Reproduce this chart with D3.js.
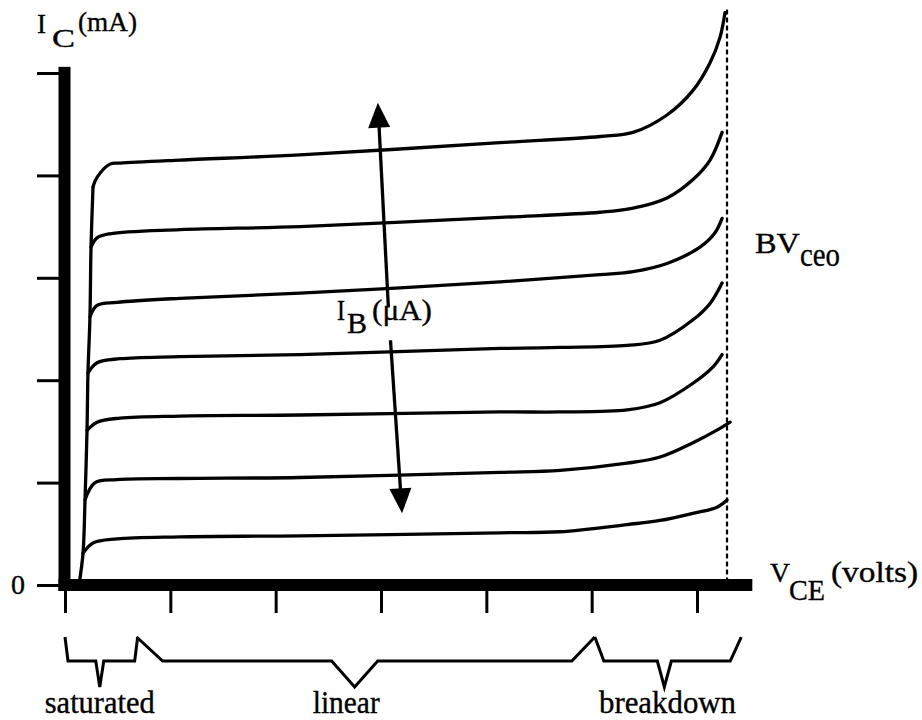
<!DOCTYPE html>
<html>
<head>
<meta charset="utf-8">
<script src="https://cdn.jsdelivr.net/npm/d3@7"></script>
<style>
  body { margin: 0; background: #fff; }
  svg { display: block; }
  text { font-family: "Liberation Serif", "DejaVu Serif", serif; fill: #000; stroke: #000; stroke-width: 0.35; }
</style>
</head>
<body>
<svg id="chart" width="922" height="720"></svg>
<script>
// V_CE tick positions (volts, unlabeled) and I_C ticks (mA)
const xTicks = [0, 1, 2, 3, 4, 5, 6];
const yTicks = [0, 1, 2, 3, 4, 5];
const bvceo = 6.285;

// common saturation edge, [V_CE, I_C]
const saturation = [[0.133, 0], [0.171, 0.31], [0.190, 0.83], [0.209, 1.51], [0.218, 2.07],
  [0.237, 2.62], [0.247, 3.30], [0.266, 3.89]];

// one curve per base current, bottom to top
const ib1 = [[0.171, 0.31], [0.266, 0.41], [0.494, 0.45], [1.092, 0.47], [2.231, 0.48], [4.130, 0.51],
  [4.700, 0.52], [5.336, 0.59], [5.649, 0.63], [5.962, 0.70], [6.190, 0.76], [6.285, 0.83]];
const ib2 = [[0.190, 0.83], [0.285, 1.00], [0.494, 1.03], [1.092, 1.04], [2.231, 1.05], [4.130, 1.10],
  [4.700, 1.12], [5.336, 1.19], [5.649, 1.25], [5.962, 1.39], [6.219, 1.53], [6.314, 1.59]];
const ib3 = [[0.209, 1.51], [0.304, 1.59], [0.522, 1.63], [1.092, 1.65], [2.231, 1.66], [4.130, 1.69],
  [4.700, 1.69], [5.336, 1.71], [5.649, 1.78], [5.962, 1.97], [6.152, 2.13], [6.238, 2.25]];
const ib4 = [[0.218, 2.07], [0.304, 2.17], [0.522, 2.21], [1.092, 2.23], [2.231, 2.25], [4.130, 2.31],
  [4.700, 2.32], [5.336, 2.34], [5.649, 2.39], [5.962, 2.59], [6.124, 2.75], [6.238, 2.95]];
const ib5 = [[0.237, 2.62], [0.304, 2.73], [0.494, 2.76], [1.092, 2.80], [2.231, 2.85], [4.130, 2.96],
  [5.079, 3.03], [5.393, 3.06], [5.715, 3.14], [6.029, 3.30], [6.171, 3.44], [6.238, 3.58]];
const ib6 = [[0.247, 3.30], [0.304, 3.39], [0.427, 3.43], [1.092, 3.47], [2.231, 3.50], [4.130, 3.59],
  [5.079, 3.64], [5.393, 3.68], [5.715, 3.78], [5.962, 3.96], [6.124, 4.15], [6.238, 4.42]];
const ib7 = [[0.266, 3.89], [0.304, 3.98], [0.427, 4.11], [0.522, 4.12], [1.092, 4.15], [2.231, 4.20],
  [4.130, 4.32], [5.079, 4.38], [5.393, 4.42], [5.715, 4.59], [5.962, 4.83], [6.124, 5.10],
  [6.219, 5.35], [6.266, 5.59]];
const curves = [ib1, ib2, ib3, ib4, ib5, ib6, ib7];

// I_B direction arrows
const arrowFrom = [[3.07, 2.71], [3.09, 2.39]];
const arrowTo = [[2.97, 4.71], [3.20, 0.70]];

// operating regions under the axis
const regions = ['saturated', 'linear', 'breakdown'];
const regionStart = [0, 0.68, 5.03];
const regionEnd = [0.69, 5.03, 6.42];
const regionTip = [0.33, 2.75, 5.69];
const regionLabel = [0.33, 2.67, 5.72];

const svg = d3.select('#chart');
const x = d3.scaleLinear().domain([0, 6]).range([65, 697]);
const y = d3.scaleLinear().domain([0, 5]).range([585, 73]);

const line = d3.line()
  .x(d => x(d[0]))
  .y(d => y(d[1]))
  .curve(d3.curveCatmullRom.alpha(0.5));

// characteristic curves
svg.append('path')
  .attr('d', line(saturation))
  .attr('fill', 'none').attr('stroke', '#000').attr('stroke-width', 3.3);

svg.selectAll('.ib')
  .data(curves)
  .enter().append('path')
  .attr('class', 'ib')
  .attr('d', line)
  .attr('fill', 'none')
  .attr('stroke', '#000')
  .attr('stroke-width', 3.3)
  .attr('stroke-linecap', 'round');

// breakdown voltage marker
svg.append('line')
  .attr('x1', x(bvceo)).attr('x2', x(bvceo))
  .attr('y1', y(5.62)).attr('y2', y(0))
  .attr('stroke', '#000').attr('stroke-width', 2.2)
  .attr('stroke-dasharray', '5,3');

// thick axes
const barW = 12;
svg.append('rect')
  .attr('x', x(0) - barW / 2 - 0.5).attr('y', y(5.06))
  .attr('width', barW).attr('height', y(0) - y(5.06) + barW / 2)
  .attr('fill', '#000');
svg.append('rect')
  .attr('x', x(0) - barW / 2 - 0.5).attr('y', y(0) - barW / 2)
  .attr('width', x(6.53) - x(0) + barW / 2).attr('height', barW)
  .attr('fill', '#000');

const xAxis = svg.append('g')
  .attr('transform', `translate(0,${y(0) + barW / 2})`)
  .call(d3.axisBottom(x).tickValues(xTicks).tickSize(22).tickFormat(''));
const yAxis = svg.append('g')
  .attr('transform', `translate(${x(0) - barW / 2},0)`)
  .call(d3.axisLeft(y).tickValues(yTicks).tickSize(22).tickPadding(12)
    .tickFormat(d => d === 0 ? '0' : ''));
[xAxis, yAxis].forEach(a => {
  a.select('.domain').remove();
  a.selectAll('.tick line').attr('stroke', '#000').attr('stroke-width', 3);
});
yAxis.selectAll('.tick text')
  .attr('font-family', '"Liberation Serif", serif')
  .attr('font-size', 28)
  .attr('fill', '#000');

// arrows for I_B
arrowFrom.forEach((from, i) => {
  const to = arrowTo[i];
  const x0 = x(from[0]), y0 = y(from[1]), x1 = x(to[0]), y1 = y(to[1]);
  const len = Math.hypot(x1 - x0, y1 - y0);
  const ux = (x1 - x0) / len, uy = (y1 - y0) / len;
  const head = 25, half = 11;
  const bx = x1 - ux * head, by = y1 - uy * head;
  svg.append('line')
    .attr('x1', x0).attr('y1', y0).attr('x2', bx + ux * 2).attr('y2', by + uy * 2)
    .attr('stroke', '#000').attr('stroke-width', 3.3);
  svg.append('path')
    .attr('d', `M${x1},${y1}L${bx - uy * half},${by + ux * half}L${bx + uy * half},${by - ux * half}Z`)
    .attr('fill', '#000');
});

// text helper: fixed width to match the narrow scanned type
function label(px, py, size, width, str, anchor) {
  return svg.append('text')
    .attr('x', px).attr('y', py)
    .attr('font-size', size)
    .attr('text-anchor', anchor || 'start')
    .attr('textLength', width)
    .attr('lengthAdjust', 'spacingAndGlyphs')
    .text(str);
}

// region braces
const braceTop = 637, braceMid = 661, braceTipY = 687;
const slantL = [3, 26, 9], slantR = [3, 23, 11], notch = [4, 23, 7];
const labelW = [110, 67, 137];
regions.forEach((name, i) => {
  const a = x(regionStart[i]), b = x(regionEnd[i]), t = x(regionTip[i]);
  const p = d3.path();
  p.moveTo(a, braceTop);
  p.lineTo(a + slantL[i], braceMid);
  p.lineTo(t - notch[i], braceMid);
  p.lineTo(t, braceTipY);
  p.lineTo(t + notch[i], braceMid);
  p.lineTo(b - slantR[i], braceMid);
  p.lineTo(b, braceTop);
  svg.append('path')
    .attr('d', p.toString())
    .attr('fill', 'none').attr('stroke', '#000').attr('stroke-width', 3)
    .attr('stroke-linejoin', 'miter');
  label(x(regionLabel[i]), 713, 31, labelW[i], name, 'middle');
});

// axis and parameter labels
label(37, 33, 27, 9, 'I');
label(52, 47, 26, 23, 'C');
label(78, 31, 27, 59, '(mA)');

label(755, 253, 30, 45, 'BV');
label(800, 266, 34, 40, 'ceo');

label(770, 582, 28, 20, 'V');
label(789, 600, 30, 36, 'CE');
label(831, 582, 29, 87, '(volts)');

label(337, 320, 29, 8, 'I');
label(347, 333, 29, 20, 'B');
label(372, 320, 30, 60, '(μA)');
</script>
</body>
</html>
